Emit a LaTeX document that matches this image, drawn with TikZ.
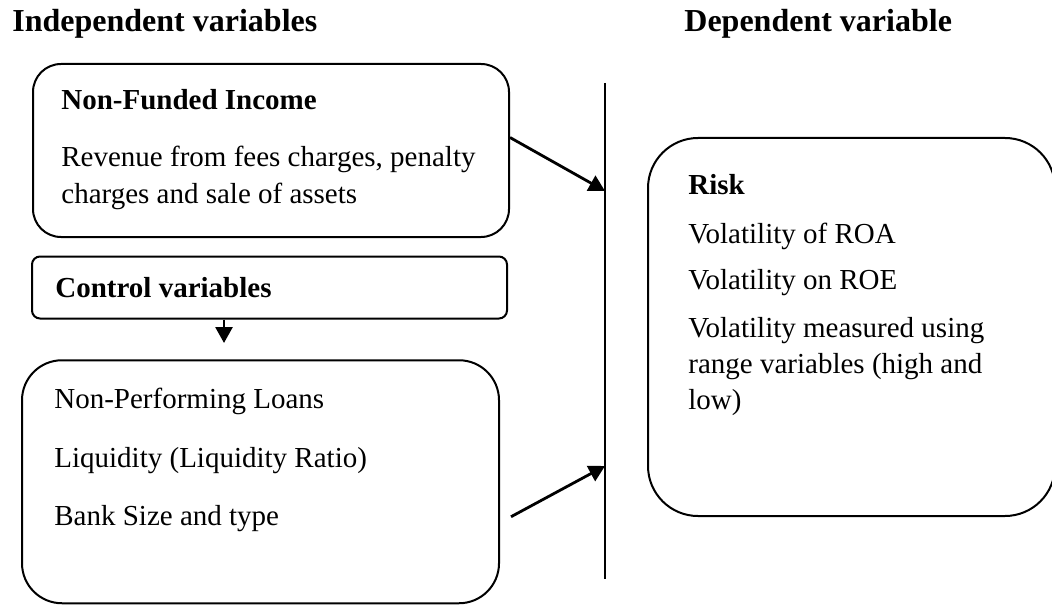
\documentclass[tikz,border=0pt]{standalone}
\usepackage{fontspec}
\setmainfont{Liberation Serif}
\usetikzlibrary{calc,arrows.meta}

\begin{document}
\begin{tikzpicture}[x=0.5pt,y=-0.5pt,
	box/.style={draw,line width=1pt,inner sep=0pt},
	txt/.style={anchor=base west,inner sep=0pt,font=\fontsize{14.5}{18}\selectfont},
	hd/.style={txt,font=\fontsize{14.5}{18}\selectfont\bfseries},
	title/.style={txt,font=\fontsize{16}{19}\selectfont\bfseries},
	arr/.style={-{Triangle[length=8pt,width=8.5pt]},line width=1.4pt}]
		\useasboundingbox (0,0) rectangle (1052,604);
		\node[title] (indep) at (12,32) {Independent variables};
		\node[title] (dep) at (684,32) {Dependent variable};
		\node[box,rounded corners=14pt,minimum width=238pt,minimum height=86.5pt] (nfi) at (271,150.5) {};
		\node[hd] (nfihead) at (61,110) {Non-Funded Income};
		\node[txt] (rev1) at (61,167) {Revenue from fees charges, penalty};
		\node[txt] (rev2) at (61,203) {charges and sale of assets};
		\node[box,rounded corners=4pt,minimum width=237.5pt,minimum height=31pt] (ctl) at (269.5,287.5) {};
		\node[hd] (ctlhead) at (55,297) {Control variables};
		\node[box,rounded corners=20pt,minimum width=238.5pt,minimum height=121.5pt] (cv) at (260.5,481.75) {};
		\foreach \y/\t in {408/Non-Performing Loans,467/Liquidity (Liquidity Ratio),525/Bank Size and type}
		\node[txt] at (54,\y) {\t};
		\node[box,rounded corners=25pt,minimum width=203.5pt,minimum height=189pt] (risk) at (851.5,327) {};
		\node[hd] (riskhead) at (688,194) {Risk};
		\foreach \y/\t in {243/Volatility of ROA,289/Volatility on ROE,337/Volatility measured using,373/range variables (high and,409/low)}
		\node[txt] at (688,\y) {\t};
		\draw[line width=1pt] (605,83) coordinate (ltop) -- (605,579) coordinate (lbot);
		\coordinate (hit1) at (605,191);
		\coordinate (hit2) at (605,466);
		\coordinate (cvtip) at (224,343);
		\draw[arr] ($(nfi.east)+(0,-13)$) -- (hit1);
		\draw[arr] ($(cv.east)+(11,35)$) -- (hit2);
		\draw[arr] (ctl.south -| cvtip) -- (cvtip);
	\end{tikzpicture}
\end{document}
